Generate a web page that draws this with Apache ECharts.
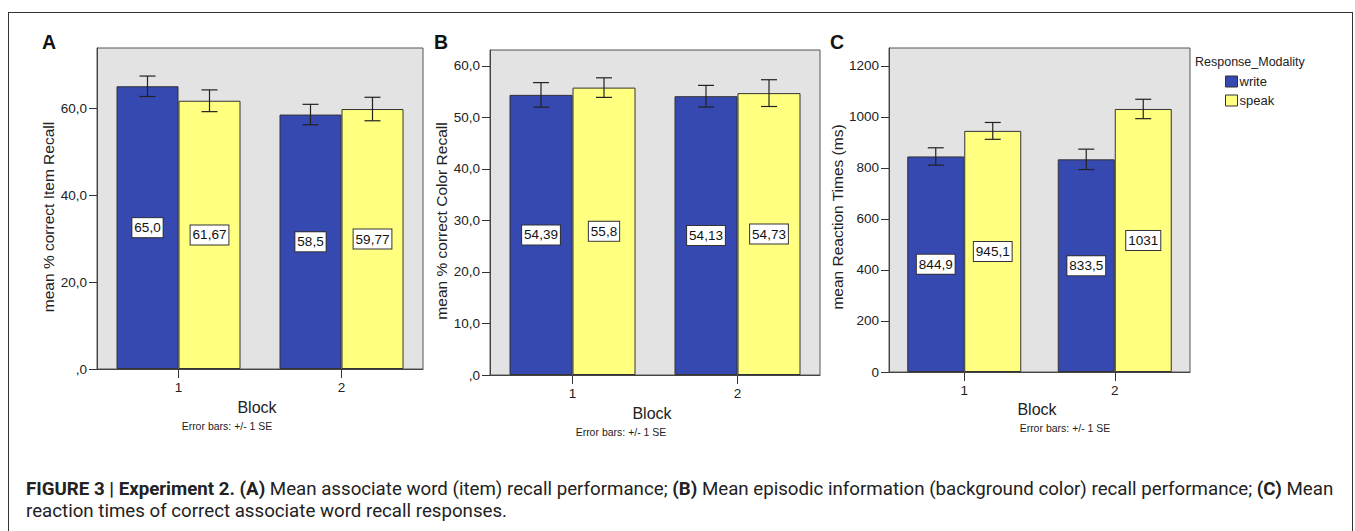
<!DOCTYPE html>
<html><head><meta charset="utf-8">
<script src="https://cdn.jsdelivr.net/npm/echarts@6/dist/echarts.min.js"></script>
<style>
html,body{margin:0;padding:0;background:#fff;width:1355px;height:531px;overflow:hidden;}
#chart{position:absolute;left:0;top:0;width:1355px;height:531px;}
#frame{position:absolute;left:8px;top:12px;width:1345px;height:540px;border:1.5px solid #333;box-sizing:border-box;}
#caption{position:absolute;left:26px;top:478px;font-family:Roboto,"Liberation Sans",Arial,sans-serif;font-size:15px;line-height:22px;color:#222;white-space:nowrap;}
#caption b{font-weight:700;}
</style></head>
<body>
<div id="frame"></div>
<div id="chart"></div>
<div id="caption"><span id="l1"><b>FIGURE 3 | Experiment 2. (A)</b> Mean associate word (item) recall performance; <b>(B)</b> Mean episodic information (background color) recall performance; <b>(C)</b> Mean</span><br>reaction times of correct associate word recall responses.</div>
<script>
// ---- data ----
const categories = ['1', '2'];
const seriesNames = ['write', 'speak'];

const itemWrite = [65.0, 58.5];
const itemSpeak = [61.67, 59.77];
const itemWriteSE = [2.35, 2.35];
const itemSpeakSE = [2.5, 2.7];
const itemWriteLabels = ['65,0', '58,5'];
const itemSpeakLabels = ['61,67', '59,77'];

const colorWrite = [54.39, 54.13];
const colorSpeak = [55.8, 54.73];
const colorWriteSE = [2.38, 2.1];
const colorSpeakSE = [1.9, 2.6];
const colorWriteLabels = ['54,39', '54,13'];
const colorSpeakLabels = ['55,8', '54,73'];

const rtWrite = [844.9, 833.5];
const rtSpeak = [945.1, 1031];
const rtWriteSE = [34, 40];
const rtSpeakSE = [33, 38];
const rtWriteLabels = ['844,9', '833,5'];
const rtSpeakLabels = ['945,1', '1031'];

const itemTicks = [0, 20, 40, 60];
const colorTicks = [0, 10, 20, 30, 40, 50, 60];
const rtTicks = [0, 200, 400, 600, 800, 1000, 1200];

// ---- layout ----
const FONT = '"Liberation Sans", Arial, sans-serif';
const BLUE = '#3549B0';
const YELLOW = '#FFFF80';
const panels = [
  {grid:{left:97, top:48, width:326, height:321}, max:73.8, ticks:itemTicks, fmt:v=> v===0 ? ',0' : v.toFixed(1).replace('.', ','),
   w:itemWrite, s:itemSpeak, wse:itemWriteSE, sse:itemSpeakSE, wl:itemWriteLabels, sl:itemSpeakLabels, bw:62},
  {grid:{left:490, top:50, width:330, height:325}, max:63.1, ticks:colorTicks, fmt:v=> v===0 ? ',0' : v.toFixed(1).replace('.', ','),
   w:colorWrite, s:colorSpeak, wse:colorWriteSE, sse:colorSpeakSE, wl:colorWriteLabels, sl:colorSpeakLabels, bw:63},
  {grid:{left:889, top:48, width:301, height:324}, max:1270, ticks:rtTicks, fmt:v=> String(v),
   w:rtWrite, s:rtSpeak, wse:rtWriteSE, sse:rtSpeakSE, wl:rtWriteLabels, sl:rtSpeakLabels, bw:57}
];

const grid = [], xAxis = [], yAxis = [], series = [];
panels.forEach((p, i) => {
  grid.push(Object.assign({show:true, backgroundColor:'#e3e3e3', borderColor:'#555', borderWidth:1}, p.grid));
  xAxis.push({type:'category', gridIndex:i, data:categories,
    axisLine:{show:true, lineStyle:{color:'#444', width:1}},
    axisTick:{show:true, alignWithLabel:true, length:9, lineStyle:{color:'#333'}},
    axisLabel:{fontSize:13.5, color:'#222', margin:11, fontFamily:FONT},
    splitLine:{show:false}});
  yAxis.push({type:'value', gridIndex:i, min:0, max:p.max,
    axisLine:{show:true, lineStyle:{color:'#444', width:1}},
    axisTick:{show:true, length:8, lineStyle:{color:'#333'}, customValues:p.ticks},
    axisLabel:{fontSize:13.5, color:'#222', margin:10, fontFamily:FONT, formatter:p.fmt, customValues:p.ticks},
    splitLine:{show:false}});
  const mkLabel = (labels) => ({show:true, position:'inside', color:'#111', fontSize:13.5, fontFamily:FONT,
    backgroundColor:'#fff', borderColor:'#333', borderWidth:1, padding:[3,2,2,2],
    formatter: (prm) => labels[prm.dataIndex]});
  series.push({name:'write', type:'bar', xAxisIndex:i, yAxisIndex:i, data:p.w, barWidth:p.bw, barGap:'0%',
    itemStyle:{color:BLUE, borderColor:'#333', borderWidth:1}, label:mkLabel(p.wl), emphasis:{disabled:true}});
  series.push({name:'speak', type:'bar', xAxisIndex:i, yAxisIndex:i, data:p.s, barWidth:p.bw, barGap:'0%',
    itemStyle:{color:YELLOW, borderColor:'#333', borderWidth:1}, label:mkLabel(p.sl), emphasis:{disabled:true}});
  [[p.w, p.wse, -1], [p.s, p.sse, 1]].forEach(([vals, se, side], k) => {
    series.push({name:'err'+i+'_'+k, type:'custom', xAxisIndex:i, yAxisIndex:i, z:10,
      data: vals.map((v, j) => [j, v - se[j], v + se[j]]),
      renderItem: (params, api) => {
        const lo = api.coord([api.value(0), api.value(1)]);
        const hi = api.coord([api.value(0), api.value(2)]);
        const x = lo[0] + side * p.bw / 2;
        const cw = 8;
        const st = {stroke:'#222', lineWidth:1.2};
        return {type:'group', children:[
          {type:'line', shape:{x1:x, y1:lo[1], x2:x, y2:hi[1]}, style:st},
          {type:'line', shape:{x1:x-cw, y1:hi[1], x2:x+cw, y2:hi[1]}, style:st},
          {type:'line', shape:{x1:x-cw, y1:lo[1], x2:x+cw, y2:lo[1]}, style:st}
        ]};
      }});
  });
});

const txt = (x, y, text, size, opts) => Object.assign({type:'text', x:x, y:y, silent:true,
  style:Object.assign({text:text, fontSize:size, fontFamily:FONT, fill:'#222', textAlign:'center', textVerticalAlign:'middle'}, (opts||{}).style||{})},
  opts && opts.rotation ? {rotation:opts.rotation} : {});

const graphic = [
  txt(49, 42, 'A', 19.5, {style:{fontWeight:'bold', fill:'#111'}}),
  txt(441, 42, 'B', 19.5, {style:{fontWeight:'bold', fill:'#111'}}),
  txt(837, 42, 'C', 19.5, {style:{fontWeight:'bold', fill:'#111'}}),
  txt(48, 217, 'mean % correct Item Recall', 15.5, {rotation:Math.PI/2}),
  txt(441, 221, 'mean % correct Color Recall', 15.5, {rotation:Math.PI/2}),
  txt(837, 217, 'mean Reaction Times (ms)', 15.5, {rotation:Math.PI/2}),
  txt(257, 407, 'Block', 16),
  txt(652, 413, 'Block', 16),
  txt(1037, 409, 'Block', 16),
  txt(227, 426, 'Error bars: +/- 1 SE', 10.5),
  txt(621, 432, 'Error bars: +/- 1 SE', 10.5),
  txt(1065, 428, 'Error bars: +/- 1 SE', 10.5),
  txt(1195, 62, 'Response_Modality', 12.5, {style:{textAlign:'left'}})
];

const chart = echarts.init(document.getElementById('chart'), null, {renderer:'svg', width:1355, height:531});
chart.setOption({
  animation:false,
  backgroundColor:'transparent',
  grid:grid, xAxis:xAxis, yAxis:yAxis, series:series,
  legend:{data:seriesNames, orient:'vertical', left:1225, top:75, itemWidth:12, itemHeight:11, itemGap:6, padding:0,
    icon:'rect', itemStyle:{borderColor:'#333', borderWidth:1}, selectedMode:false,
    textStyle:{fontSize:13, color:'#222', fontFamily:FONT, padding:[0,0,0,-3]}},
  graphic:graphic
});

// fit caption first line to reference width
(function(){
  const l1 = document.getElementById('l1');
  const target = 1308;
  const w = l1.getBoundingClientRect().width;
  const cap = document.getElementById('caption');
  const fs = 15 * target / w;
  cap.style.fontSize = fs.toFixed(2) + 'px';
})();
</script>
</body></html>
